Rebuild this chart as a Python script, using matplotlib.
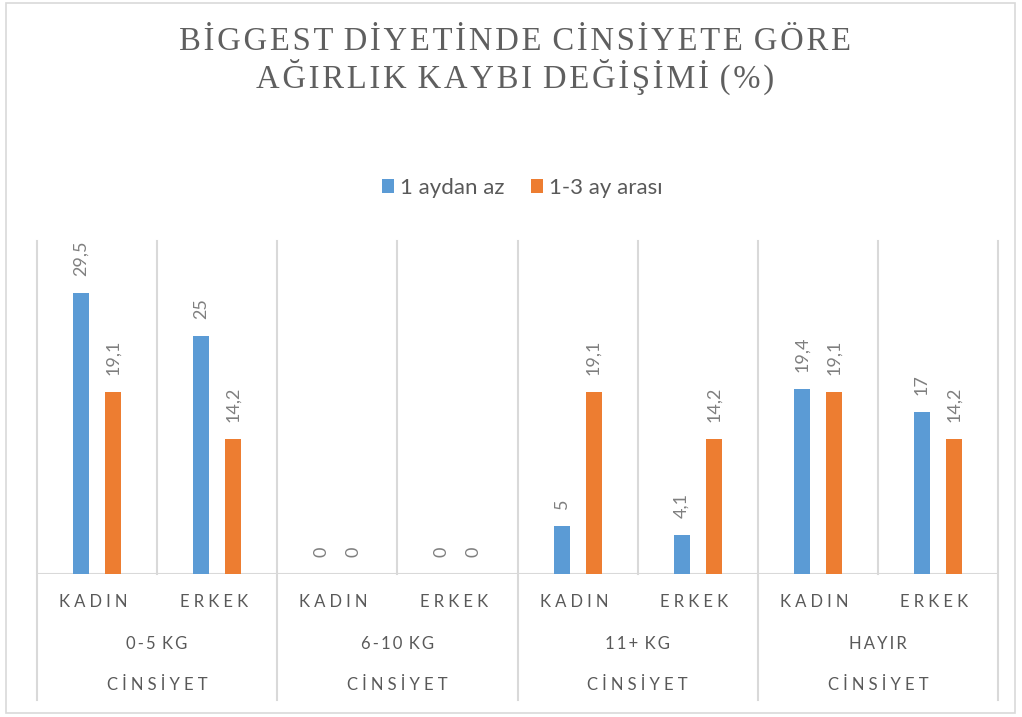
import matplotlib
matplotlib.use('Agg')
import matplotlib.pyplot as plt
from matplotlib.patches import Rectangle

# veriler
genders = ['KADIN', 'ERKEK', 'KADIN', 'ERKEK', 'KADIN', 'ERKEK', 'KADIN', 'ERKEK']
groups = ['0-5 KG', '6-10 KG', '11+ KG', 'HAYIR']
outer = ['CİNSİYET', 'CİNSİYET', 'CİNSİYET', 'CİNSİYET']
series_names = ['1 aydan az', '1-3 ay arası']
less_1m = [29.5, 25, 0, 0, 5, 4.1, 19.4, 17]
m1_3 = [19.1, 14.2, 0, 0, 19.1, 14.2, 19.1, 14.2]

BLUE = '#5B9BD5'
ORANGE = '#ED7D31'
GRID = '#D9D9D9'
TXT = '#595959'
SANS = ['Lato', 'DejaVu Sans']
SERIF = ['Liberation Serif', 'DejaVu Serif']


def spaced(s, sep='\u2005'):
    # harf aralığı: kelime içinde ayraç, kelimeler arasında tek boşluk
    return (' ' + sep).join(sep.join(w) for w in s.split(' '))


def fmt(v):
    return ('%g' % v).replace('.', ',')


W, H = 1022, 717
fig = plt.figure(figsize=(W / 100, H / 100), dpi=100)
fig.patches.append(Rectangle((6 / W, 4 / H), 1009 / W, 710 / H, transform=fig.transFigure,
                             fill=False, edgecolor=GRID, linewidth=1.2))

x0, x1, ybase, ytop = 37, 998, 574, 241
ax = fig.add_axes([x0 / W, 1 - ybase / H, (x1 - x0) / W, (ybase - ytop) / H])
ax.set_xlim(0, 8)
ax.set_ylim(0, 35)
for s in ax.spines.values():
    s.set_visible(False)
ax.set_xticks([])
ax.set_yticks([])

n = len(genders)
xs = [i + 0.5 for i in range(n)]
bw = 16 / 120
b1 = ax.bar([x - bw for x in xs], less_1m, width=bw, color=BLUE, label=series_names[0], zorder=3)
b2 = ax.bar([x + bw for x in xs], m1_3, width=bw, color=ORANGE, label=series_names[1], zorder=3)

for bars, vals in ((b1, less_1m), (b2, m1_3)):
    for r, v in zip(bars, vals):
        ax.annotate(fmt(v), (r.get_x() + r.get_width() / 2, v), xytext=(0, 12.5),
                    textcoords='offset points', rotation=90, ha='center', va='bottom',
                    fontsize=13, color='#7F7F7F', family=SANS)

# ayraç çizgileri
tr = ax.get_xaxis_transform()
ax.axhline(0, color=GRID, linewidth=1.5, zorder=2)
yb = (ybase - 700) / (ybase - ytop)
for i in range(n + 1):
    low = 0 if i % 2 == 1 else yb
    ax.plot([i, i], [low, 1], color=GRID, linewidth=1.5, clip_on=False, zorder=1, transform=tr)

r1 = (ybase - 602) / (ybase - ytop)
r2 = (ybase - 644) / (ybase - ytop)
r3 = (ybase - 685) / (ybase - ytop)
for x, g in zip(xs, genders):
    ax.text(x - 0.03, r1, spaced(g), transform=tr, ha='center', va='center', fontsize=12,
            color=TXT, family=SANS)
for j, g in enumerate(groups):
    ax.text(2 * j + 1, r2, spaced(g, '\u2009'), transform=tr, ha='center', va='center',
            fontsize=12, color=TXT, family=SANS)
    ax.text(2 * j + 1, r3, spaced(outer[j]), transform=tr, ha='center', va='center',
            fontsize=12, color=TXT, family=SANS)

fig.legend(handles=[b1, b2], labels=series_names, loc='center', bbox_to_anchor=(522 / W, 1 - 188 / H),
           ncol=2, frameon=False, prop={'family': SANS, 'size': 16}, labelcolor=TXT,
           handlelength=0.55, handleheight=0.55, handletextpad=0.25, columnspacing=1.2)

fig.text(515 / W, 1 - 42 / H, spaced('BİGGEST DİYETİNDE CİNSİYETE GÖRE', '\u200a'),
         ha='center', va='center', fontsize=23.5, color='#5F5F5F', family=SERIF)
fig.text(515 / W, 1 - 77 / H, spaced('AĞIRLIK KAYBI DEĞİŞİMİ (%)', '\u200a'),
         ha='center', va='center', fontsize=23.5, color='#5F5F5F', family=SERIF)

fig.savefig('out.png', dpi=100)
